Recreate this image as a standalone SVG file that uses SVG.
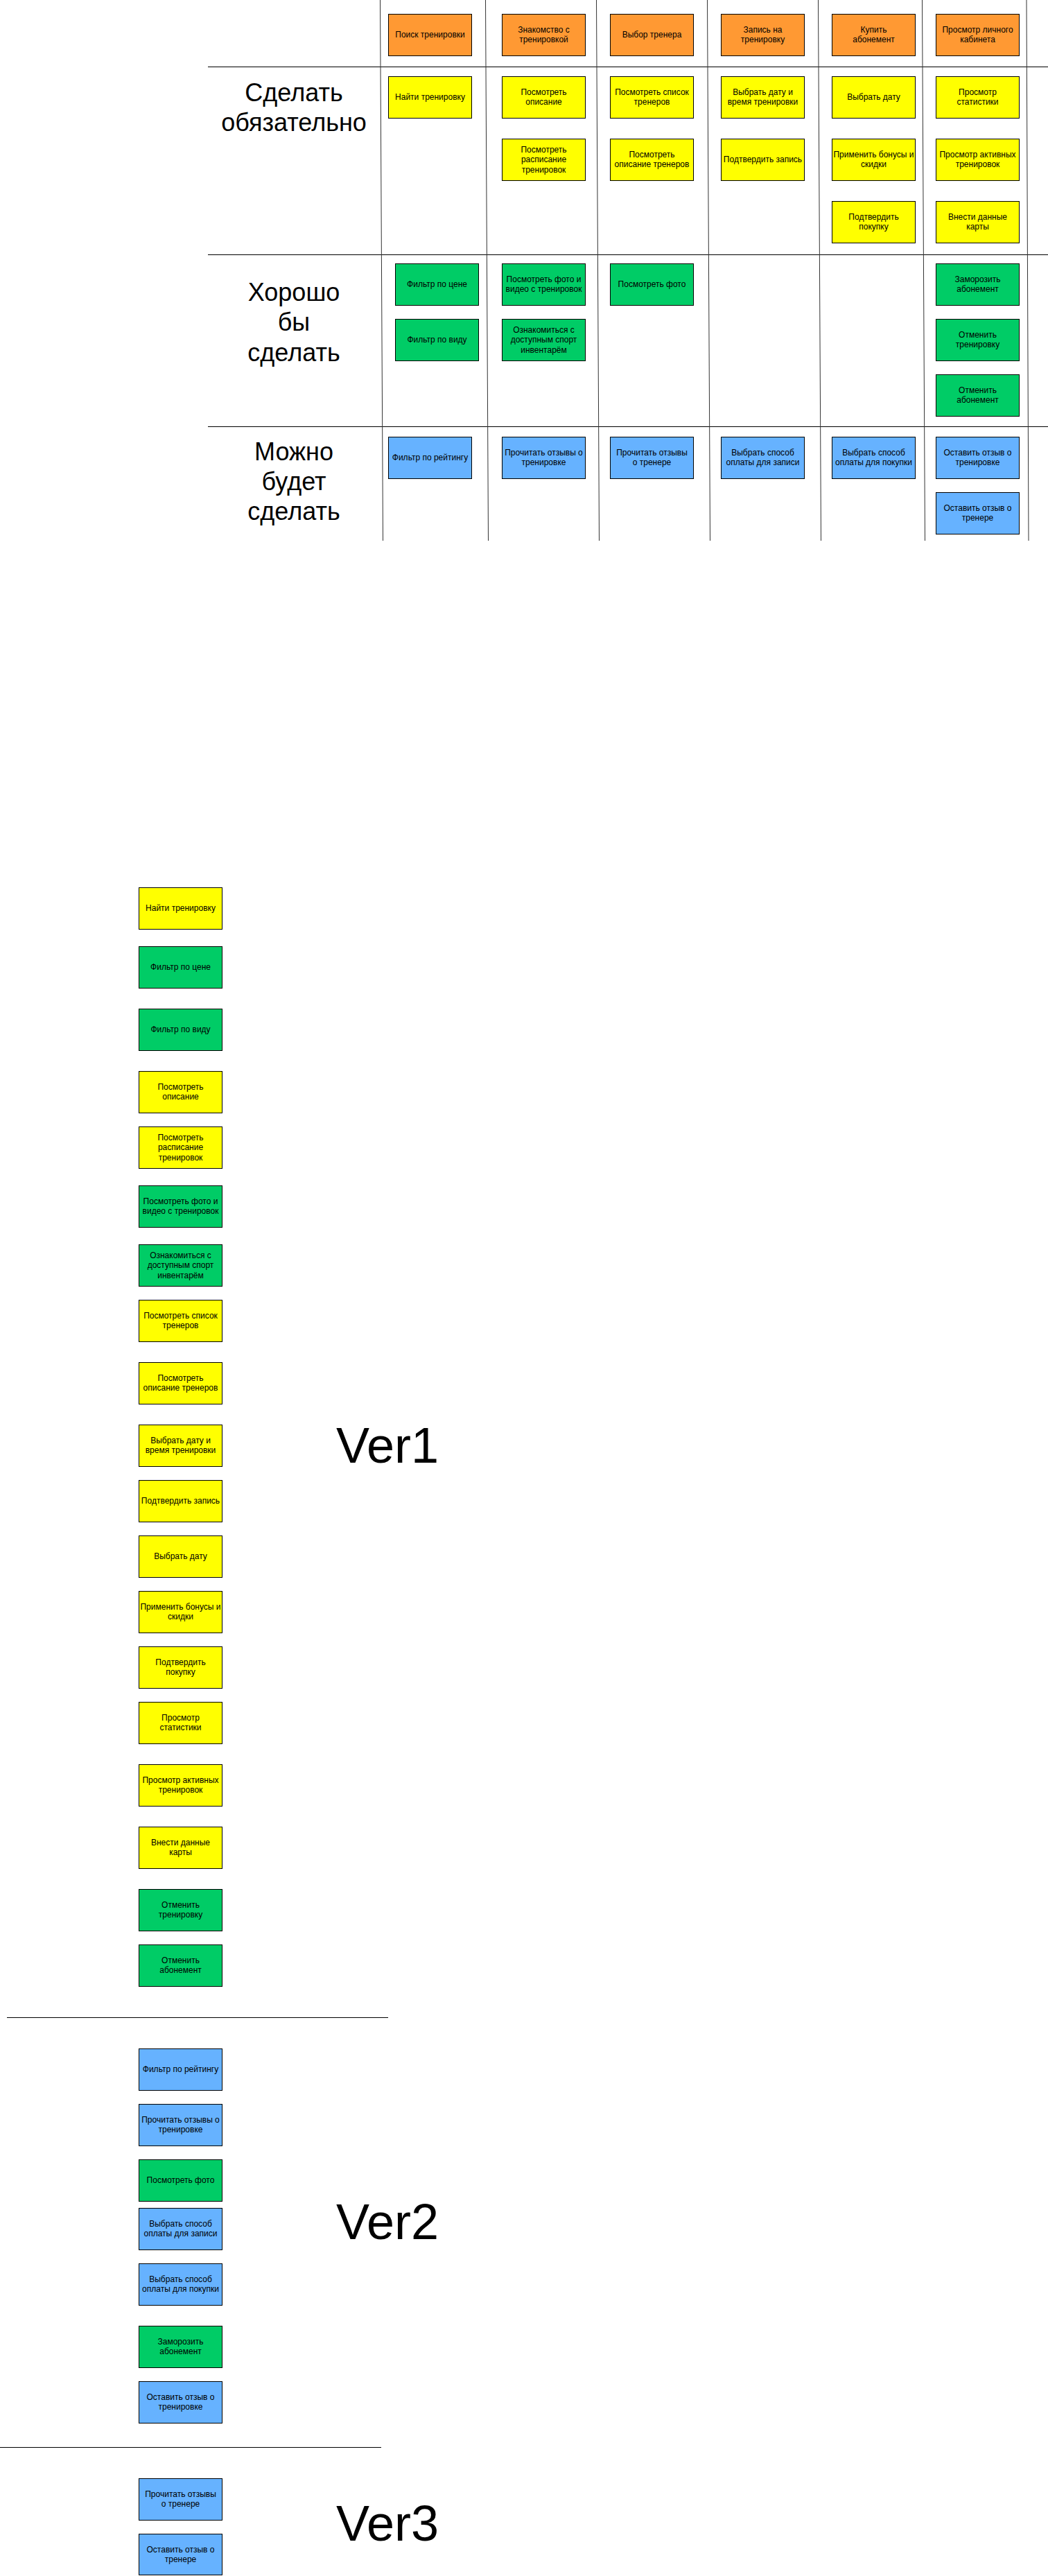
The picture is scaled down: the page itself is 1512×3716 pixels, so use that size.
<svg xmlns="http://www.w3.org/2000/svg" width="1512" height="3716" viewBox="0 0 1512 3716">
<style>
.b{stroke:#000;stroke-width:1}
.o{fill:#FF9933}.y{fill:#FFFF00}.g{fill:#00CC66}.u{fill:#66B2FF}
.t{font-family:"Liberation Sans",Arial,sans-serif;font-size:12px;fill:#000;text-anchor:middle}
.L{font-family:"Liberation Sans",Arial,sans-serif;font-size:36px;fill:#000;text-anchor:middle}
.V{font-family:"Liberation Sans",Arial,sans-serif;font-size:72px;fill:#000}
.ln{stroke:#000;stroke-width:1;fill:none}
.cl{stroke:#333;stroke-width:1;fill:none}
</style>
<rect width="1512" height="3716" fill="#fff"/>
<g id="grid">
<line class="ln" x1="300" y1="96.5" x2="1512" y2="96.5"/>
<line class="ln" x1="300" y1="367.5" x2="1512" y2="367.5"/>
<line class="ln" x1="300" y1="615.5" x2="1512" y2="615.5"/>
<line class="cl" x1="548.5" y1="0" x2="552.5" y2="780"/>
<line class="cl" x1="700.5" y1="0" x2="704.5" y2="780"/>
<line class="cl" x1="860.5" y1="0" x2="864.5" y2="780"/>
<line class="cl" x1="1020.5" y1="0" x2="1024.5" y2="780"/>
<line class="cl" x1="1180.5" y1="0" x2="1184.5" y2="780"/>
<line class="cl" x1="1330.5" y1="0" x2="1334.5" y2="780"/>
<line class="cl" x1="1481" y1="0" x2="1484" y2="780"/>
<line class="ln" x1="10" y1="2910.5" x2="560" y2="2910.5"/>
<line class="ln" x1="0" y1="3530.5" x2="550" y2="3530.5"/>
</g>
<g id="connectors"></g>
<g id="labels">
<text class="L" x="424"><tspan x="424" y="146">Сделать</tspan><tspan x="424" y="189">обязательно</tspan></text>
<text class="L" x="424"><tspan x="424" y="434">Хорошо</tspan><tspan x="424" y="477">бы</tspan><tspan x="424" y="521">сделать</tspan></text>
<text class="L" x="424"><tspan x="424" y="664">Можно</tspan><tspan x="424" y="707">будет</tspan><tspan x="424" y="750">сделать</tspan></text>
<text class="V" x="485" y="2110">Ver1</text>
<text class="V" x="485" y="3230">Ver2</text>
<text class="V" x="485" y="3665">Ver3</text>
</g>
<g id="h1"><rect class="b o" x="560.5" y="20.5" width="120" height="60"/><text class="t"><tspan x="620.5" y="54">Поиск тренировки</tspan></text></g>
<g id="h2"><rect class="b o" x="724.5" y="20.5" width="120" height="60"/><text class="t"><tspan x="784.5" y="47">Знакомство с</tspan><tspan x="784.5" y="61.4">тренировкой</tspan></text></g>
<g id="h3"><rect class="b o" x="880.5" y="20.5" width="120" height="60"/><text class="t"><tspan x="940.5" y="54">Выбор тренера</tspan></text></g>
<g id="h4"><rect class="b o" x="1040.5" y="20.5" width="120" height="60"/><text class="t"><tspan x="1100.5" y="47">Запись на</tspan><tspan x="1100.5" y="61.4">тренировку</tspan></text></g>
<g id="h5"><rect class="b o" x="1200.5" y="20.5" width="120" height="60"/><text class="t"><tspan x="1260.5" y="47">Купить</tspan><tspan x="1260.5" y="61.4">абонемент</tspan></text></g>
<g id="h6"><rect class="b o" x="1350.5" y="20.5" width="120" height="60"/><text class="t"><tspan x="1410.5" y="47">Просмотр личного</tspan><tspan x="1410.5" y="61.4">кабинета</tspan></text></g>

<g id="m1a"><rect class="b y" x="560.5" y="110.5" width="120" height="60"/><text class="t"><tspan x="620.5" y="144">Найти тренировку</tspan></text></g>
<g id="m2a"><rect class="b y" x="724.5" y="110.5" width="120" height="60"/><text class="t"><tspan x="784.5" y="137">Посмотреть</tspan><tspan x="784.5" y="151.4">описание</tspan></text></g>
<g id="m2b"><rect class="b y" x="724.5" y="200.5" width="120" height="60"/><text class="t"><tspan x="784.5" y="220">Посмотреть</tspan><tspan x="784.5" y="234.4">расписание</tspan><tspan x="784.5" y="248.8">тренировок</tspan></text></g>
<g id="m3a"><rect class="b y" x="880.5" y="110.5" width="120" height="60"/><text class="t"><tspan x="940.5" y="137">Посмотреть список</tspan><tspan x="940.5" y="151.4">тренеров</tspan></text></g>
<g id="m3b"><rect class="b y" x="880.5" y="200.5" width="120" height="60"/><text class="t"><tspan x="940.5" y="227">Посмотреть</tspan><tspan x="940.5" y="241.4">описание тренеров</tspan></text></g>
<g id="m4a"><rect class="b y" x="1040.5" y="110.5" width="120" height="60"/><text class="t"><tspan x="1100.5" y="137">Выбрать дату и</tspan><tspan x="1100.5" y="151.4">время тренировки</tspan></text></g>
<g id="m4b"><rect class="b y" x="1040.5" y="200.5" width="120" height="60"/><text class="t"><tspan x="1100.5" y="234">Подтвердить запись</tspan></text></g>
<g id="m5a"><rect class="b y" x="1200.5" y="110.5" width="120" height="60"/><text class="t"><tspan x="1260.5" y="144">Выбрать дату</tspan></text></g>
<g id="m5b"><rect class="b y" x="1200.5" y="200.5" width="120" height="60"/><text class="t"><tspan x="1260.5" y="227">Применить бонусы и</tspan><tspan x="1260.5" y="241.4">скидки</tspan></text></g>
<g id="m5c"><rect class="b y" x="1200.5" y="290.5" width="120" height="60"/><text class="t"><tspan x="1260.5" y="317">Подтвердить</tspan><tspan x="1260.5" y="331.4">покупку</tspan></text></g>
<g id="m6a"><rect class="b y" x="1350.5" y="110.5" width="120" height="60"/><text class="t"><tspan x="1410.5" y="137">Просмотр</tspan><tspan x="1410.5" y="151.4">статистики</tspan></text></g>
<g id="m6b"><rect class="b y" x="1350.5" y="200.5" width="120" height="60"/><text class="t"><tspan x="1410.5" y="227">Просмотр активных</tspan><tspan x="1410.5" y="241.4">тренировок</tspan></text></g>
<g id="m6c"><rect class="b y" x="1350.5" y="290.5" width="120" height="60"/><text class="t"><tspan x="1410.5" y="317">Внести данные</tspan><tspan x="1410.5" y="331.4">карты</tspan></text></g>

<g id="s1a"><rect class="b g" x="570.5" y="380.5" width="120" height="60"/><text class="t"><tspan x="630.5" y="414">Фильтр по цене</tspan></text></g>
<g id="s1b"><rect class="b g" x="570.5" y="460.5" width="120" height="60"/><text class="t"><tspan x="630.5" y="494">Фильтр по виду</tspan></text></g>
<g id="s2a"><rect class="b g" x="724.5" y="380.5" width="120" height="60"/><text class="t"><tspan x="784.5" y="407">Посмотреть фото и</tspan><tspan x="784.5" y="421.4">видео с тренировок</tspan></text></g>
<g id="s2b"><rect class="b g" x="724.5" y="460.5" width="120" height="60"/><text class="t"><tspan x="784.5" y="480">Ознакомиться с</tspan><tspan x="784.5" y="494.4">доступным спорт</tspan><tspan x="784.5" y="508.8">инвентарём</tspan></text></g>
<g id="s3a"><rect class="b g" x="880.5" y="380.5" width="120" height="60"/><text class="t"><tspan x="940.5" y="414">Посмотреть фото</tspan></text></g>
<g id="s6a"><rect class="b g" x="1350.5" y="380.5" width="120" height="60"/><text class="t"><tspan x="1410.5" y="407">Заморозить</tspan><tspan x="1410.5" y="421.4">абонемент</tspan></text></g>
<g id="s6b"><rect class="b g" x="1350.5" y="460.5" width="120" height="60"/><text class="t"><tspan x="1410.5" y="487">Отменить</tspan><tspan x="1410.5" y="501.4">тренировку</tspan></text></g>
<g id="s6c"><rect class="b g" x="1350.5" y="540.5" width="120" height="60"/><text class="t"><tspan x="1410.5" y="567">Отменить</tspan><tspan x="1410.5" y="581.4">абонемент</tspan></text></g>

<g id="c1a"><rect class="b u" x="560.5" y="630.5" width="120" height="60"/><text class="t"><tspan x="620.5" y="664">Фильтр по рейтингу</tspan></text></g>
<g id="c2a"><rect class="b u" x="724.5" y="630.5" width="120" height="60"/><text class="t"><tspan x="784.5" y="657">Прочитать отзывы о</tspan><tspan x="784.5" y="671.4">тренировке</tspan></text></g>
<g id="c3a"><rect class="b u" x="880.5" y="630.5" width="120" height="60"/><text class="t"><tspan x="940.5" y="657">Прочитать отзывы</tspan><tspan x="940.5" y="671.4">о тренере</tspan></text></g>
<g id="c4a"><rect class="b u" x="1040.5" y="630.5" width="120" height="60"/><text class="t"><tspan x="1100.5" y="657">Выбрать способ</tspan><tspan x="1100.5" y="671.4">оплаты для записи</tspan></text></g>
<g id="c5a"><rect class="b u" x="1200.5" y="630.5" width="120" height="60"/><text class="t"><tspan x="1260.5" y="657">Выбрать способ</tspan><tspan x="1260.5" y="671.4">оплаты для покупки</tspan></text></g>
<g id="c6a"><rect class="b u" x="1350.5" y="630.5" width="120" height="60"/><text class="t"><tspan x="1410.5" y="657">Оставить отзыв о</tspan><tspan x="1410.5" y="671.4">тренировке</tspan></text></g>
<g id="c6b"><rect class="b u" x="1350.5" y="710.5" width="120" height="60"/><text class="t"><tspan x="1410.5" y="737">Оставить отзыв о</tspan><tspan x="1410.5" y="751.4">тренере</tspan></text></g>

<g id="v1-01"><rect class="b y" x="200.5" y="1280.5" width="120" height="60"/><text class="t"><tspan x="260.5" y="1314">Найти тренировку</tspan></text></g>
<g id="v1-02"><rect class="b g" x="200.5" y="1365.5" width="120" height="60"/><text class="t"><tspan x="260.5" y="1399">Фильтр по цене</tspan></text></g>
<g id="v1-03"><rect class="b g" x="200.5" y="1455.5" width="120" height="60"/><text class="t"><tspan x="260.5" y="1489">Фильтр по виду</tspan></text></g>
<g id="v1-04"><rect class="b y" x="200.5" y="1545.5" width="120" height="60"/><text class="t"><tspan x="260.5" y="1572">Посмотреть</tspan><tspan x="260.5" y="1586.4">описание</tspan></text></g>
<g id="v1-05"><rect class="b y" x="200.5" y="1625.5" width="120" height="60"/><text class="t"><tspan x="260.5" y="1645">Посмотреть</tspan><tspan x="260.5" y="1659.4">расписание</tspan><tspan x="260.5" y="1673.8">тренировок</tspan></text></g>
<g id="v1-06"><rect class="b g" x="200.5" y="1710.5" width="120" height="60"/><text class="t"><tspan x="260.5" y="1737">Посмотреть фото и</tspan><tspan x="260.5" y="1751.4">видео с тренировок</tspan></text></g>
<g id="v1-07"><rect class="b g" x="200.5" y="1795.5" width="120" height="60"/><text class="t"><tspan x="260.5" y="1815">Ознакомиться с</tspan><tspan x="260.5" y="1829.4">доступным спорт</tspan><tspan x="260.5" y="1843.8">инвентарём</tspan></text></g>
<g id="v1-08"><rect class="b y" x="200.5" y="1875.5" width="120" height="60"/><text class="t"><tspan x="260.5" y="1902">Посмотреть список</tspan><tspan x="260.5" y="1916.4">тренеров</tspan></text></g>
<g id="v1-09"><rect class="b y" x="200.5" y="1965.5" width="120" height="60"/><text class="t"><tspan x="260.5" y="1992">Посмотреть</tspan><tspan x="260.5" y="2006.4">описание тренеров</tspan></text></g>
<g id="v1-10"><rect class="b y" x="200.5" y="2055.5" width="120" height="60"/><text class="t"><tspan x="260.5" y="2082">Выбрать дату и</tspan><tspan x="260.5" y="2096.4">время тренировки</tspan></text></g>
<g id="v1-11"><rect class="b y" x="200.5" y="2135.5" width="120" height="60"/><text class="t"><tspan x="260.5" y="2169">Подтвердить запись</tspan></text></g>
<g id="v1-12"><rect class="b y" x="200.5" y="2215.5" width="120" height="60"/><text class="t"><tspan x="260.5" y="2249">Выбрать дату</tspan></text></g>
<g id="v1-13"><rect class="b y" x="200.5" y="2295.5" width="120" height="60"/><text class="t"><tspan x="260.5" y="2322">Применить бонусы и</tspan><tspan x="260.5" y="2336.4">скидки</tspan></text></g>
<g id="v1-14"><rect class="b y" x="200.5" y="2375.5" width="120" height="60"/><text class="t"><tspan x="260.5" y="2402">Подтвердить</tspan><tspan x="260.5" y="2416.4">покупку</tspan></text></g>
<g id="v1-15"><rect class="b y" x="200.5" y="2455.5" width="120" height="60"/><text class="t"><tspan x="260.5" y="2482">Просмотр</tspan><tspan x="260.5" y="2496.4">статистики</tspan></text></g>
<g id="v1-16"><rect class="b y" x="200.5" y="2545.5" width="120" height="60"/><text class="t"><tspan x="260.5" y="2572">Просмотр активных</tspan><tspan x="260.5" y="2586.4">тренировок</tspan></text></g>
<g id="v1-17"><rect class="b y" x="200.5" y="2635.5" width="120" height="60"/><text class="t"><tspan x="260.5" y="2662">Внести данные</tspan><tspan x="260.5" y="2676.4">карты</tspan></text></g>
<g id="v1-18"><rect class="b g" x="200.5" y="2725.5" width="120" height="60"/><text class="t"><tspan x="260.5" y="2752">Отменить</tspan><tspan x="260.5" y="2766.4">тренировку</tspan></text></g>
<g id="v1-19"><rect class="b g" x="200.5" y="2805.5" width="120" height="60"/><text class="t"><tspan x="260.5" y="2832">Отменить</tspan><tspan x="260.5" y="2846.4">абонемент</tspan></text></g>

<g id="v2-01"><rect class="b u" x="200.5" y="2955.5" width="120" height="60"/><text class="t"><tspan x="260.5" y="2989">Фильтр по рейтингу</tspan></text></g>
<g id="v2-02"><rect class="b u" x="200.5" y="3035.5" width="120" height="60"/><text class="t"><tspan x="260.5" y="3062">Прочитать отзывы о</tspan><tspan x="260.5" y="3076.4">тренировке</tspan></text></g>
<g id="v2-03"><rect class="b g" x="200.5" y="3115.5" width="120" height="60"/><text class="t"><tspan x="260.5" y="3149">Посмотреть фото</tspan></text></g>
<g id="v2-04"><rect class="b u" x="200.5" y="3185.5" width="120" height="60"/><text class="t"><tspan x="260.5" y="3212">Выбрать способ</tspan><tspan x="260.5" y="3226.4">оплаты для записи</tspan></text></g>
<g id="v2-05"><rect class="b u" x="200.5" y="3265.5" width="120" height="60"/><text class="t"><tspan x="260.5" y="3292">Выбрать способ</tspan><tspan x="260.5" y="3306.4">оплаты для покупки</tspan></text></g>
<g id="v2-06"><rect class="b g" x="200.5" y="3355.5" width="120" height="60"/><text class="t"><tspan x="260.5" y="3382">Заморозить</tspan><tspan x="260.5" y="3396.4">абонемент</tspan></text></g>
<g id="v2-07"><rect class="b u" x="200.5" y="3435.5" width="120" height="60"/><text class="t"><tspan x="260.5" y="3462">Оставить отзыв о</tspan><tspan x="260.5" y="3476.4">тренировке</tspan></text></g>

<g id="v3-01"><rect class="b u" x="200.5" y="3575.5" width="120" height="60"/><text class="t"><tspan x="260.5" y="3602">Прочитать отзывы</tspan><tspan x="260.5" y="3616.4">о тренере</tspan></text></g>
<g id="v3-02"><rect class="b u" x="200.5" y="3655.5" width="120" height="59"/><text class="t"><tspan x="260.5" y="3682">Оставить отзыв о</tspan><tspan x="260.5" y="3696.4">тренере</tspan></text></g>
</svg>
